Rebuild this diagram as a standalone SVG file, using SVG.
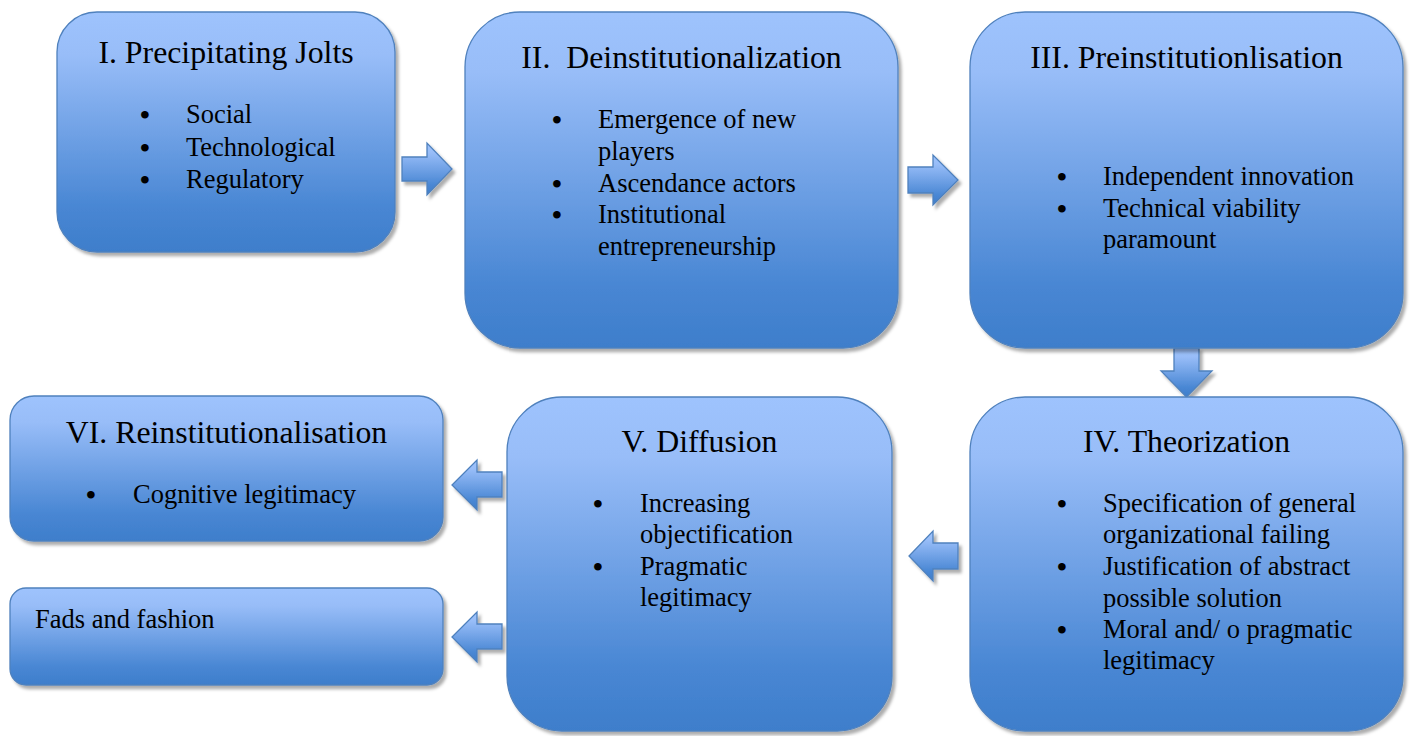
<svg xmlns="http://www.w3.org/2000/svg" width="1410" height="736" viewBox="0 0 1410 736">
<defs>
<linearGradient id="g" x1="0" y1="0" x2="0" y2="1">
<stop offset="0" stop-color="#9EC3FD"/>
<stop offset="0.18" stop-color="#98BDF8"/>
<stop offset="0.82" stop-color="#4886D3"/>
<stop offset="1" stop-color="#3E7ECB"/>
</linearGradient>
<filter id="sh" x="-10%" y="-10%" width="125%" height="125%">
<feDropShadow dx="3" dy="3.5" stdDeviation="1.5" flood-color="#000" flood-opacity="0.32"/>
</filter>
<style>
.box{fill:url(#g);stroke:#4F81BD;stroke-width:1.3;filter:url(#sh)}
.arr{fill:url(#g);stroke:#4F81BD;stroke-width:1.3;filter:url(#sh)}
text{font-family:"Liberation Serif","Times New Roman",serif;fill:#000}
.t{font-size:31.8px;text-anchor:middle}
.b{font-size:26.5px}
.d{font-size:28px;text-anchor:middle;font-weight:bold}
</style>
</defs>
<rect width="1410" height="736" fill="#fff"/>
<g id="connectors">
<path class="arr" d="M402,157 H427 V143 L452,169 L427,195 V181 H402 Z"/>
<path class="arr" d="M908,167 H933 V155 L958,180 L933,205 V193 H908 Z"/>
<path class="arr" d="M1174,348 V371 H1161 L1186.5,397 L1212,371 H1199 V348 Z"/>
<path class="arr" d="M958,543 H933 V531 L909,556 L933,581 V569 H958 Z"/>
<path class="arr" d="M502,472 H477 V460 L452,485 L477,510 V497 H502 Z"/>
<path class="arr" d="M502,624 H477 V612 L452,637 L477,662 V649 H502 Z"/>
</g>
<g id="node-1">
<rect class="box" x="57" y="12" width="338" height="240" rx="40"/>
<text class="t" x="226" y="63">I. Precipitating Jolts</text>
<text class="d" x="145" y="124">•</text><text class="b" x="186" y="123">Social</text>
<text class="d" x="145" y="157">•</text><text class="b" x="186" y="156">Technological</text>
<text class="d" x="145" y="189">•</text><text class="b" x="186" y="188">Regulatory</text>
</g>
<g id="node-2">
<rect class="box" x="465" y="12" width="433" height="336" rx="55"/>
<text class="t" x="681.5" y="68" xml:space="preserve">II.  Deinstitutionalization</text>
<text class="d" x="557" y="129">•</text><text class="b" x="598" y="128">Emergence of new</text>
<text class="b" x="598" y="160">players</text>
<text class="d" x="557" y="193">•</text><text class="b" x="598" y="192">Ascendance actors</text>
<text class="d" x="557" y="224">•</text><text class="b" x="598" y="223">Institutional</text>
<text class="b" x="598" y="255">entrepreneurship</text>
</g>
<g id="node-3">
<rect class="box" x="970" y="12" width="433" height="336" rx="55"/>
<text class="t" x="1186.5" y="68">III. Preinstitutionlisation</text>
<text class="d" x="1062" y="186">•</text><text class="b" x="1103" y="185">Independent innovation</text>
<text class="d" x="1062" y="218">•</text><text class="b" x="1103" y="217">Technical viability</text>
<text class="b" x="1103" y="248">paramount</text>
</g>
<g id="node-4">
<rect class="box" x="970" y="397" width="433" height="334" rx="55"/>
<text class="t" x="1186.5" y="452">IV. Theorization</text>
<text class="d" x="1062" y="513">•</text><text class="b" x="1103" y="512">Specification of general</text>
<text class="b" x="1103" y="543">organizational failing</text>
<text class="d" x="1062" y="576">•</text><text class="b" x="1103" y="575">Justification of abstract</text>
<text class="b" x="1103" y="607">possible solution</text>
<text class="d" x="1062" y="639">•</text><text class="b" x="1103" y="638">Moral and/ o pragmatic</text>
<text class="b" x="1103" y="669">legitimacy</text>
</g>
<g id="node-5">
<rect class="box" x="507" y="397" width="385" height="334" rx="55"/>
<text class="t" x="699.5" y="452">V. Diffusion</text>
<text class="d" x="598" y="513">•</text><text class="b" x="640" y="512">Increasing</text>
<text class="b" x="640" y="543">objectification</text>
<text class="d" x="598" y="576">•</text><text class="b" x="640" y="575">Pragmatic</text>
<text class="b" x="640" y="606">legitimacy</text>
</g>
<g id="node-6">
<rect class="box" x="10" y="396" width="433" height="145" rx="24"/>
<text class="t" x="226.5" y="443">VI. Reinstitutionalisation</text>
<text class="d" x="91" y="504">•</text><text class="b" x="133" y="503">Cognitive legitimacy</text>
</g>
<g id="node-7">
<rect class="box" x="10" y="588" width="433" height="97" rx="16"/>
<text class="b" x="35" y="628">Fads and fashion</text>
</g>
</svg>
